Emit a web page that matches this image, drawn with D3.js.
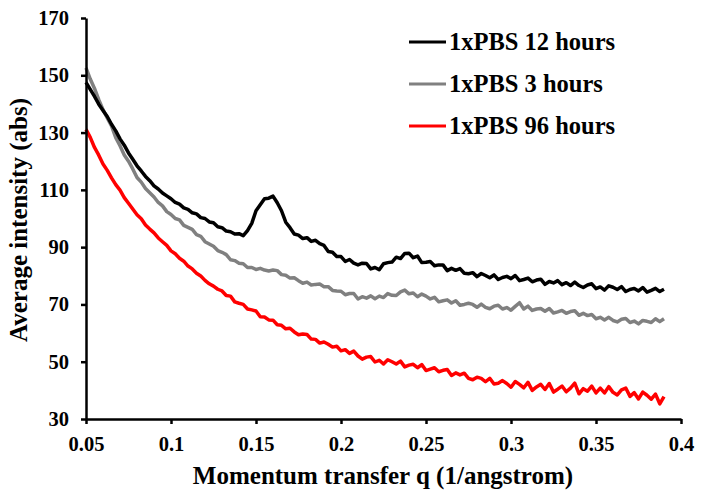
<!DOCTYPE html>
<html>
<head>
<meta charset="utf-8">
<script src="https://cdn.jsdelivr.net/npm/d3@7"></script>
<style>
  html, body { margin: 0; padding: 0; background: #fff; }
  svg { display: block; }
  text { font-family: "Times New Roman", "Liberation Serif", serif; font-weight: bold; fill: #000; }
</style>
</head>
<body>
<svg id="chart" width="703" height="497"></svg>
<script>
// ---------- data ----------
const qValues = [
0.05,0.0525,0.055,0.0575,0.06,0.0625,0.065,0.0675,0.07,0.0725,0.075,0.0775,0.08,0.0825,0.085,0.0875,0.09,0.0925,0.095,0.0975,
0.1,0.1025,0.105,0.1075,0.11,0.1125,0.115,0.1175,0.12,0.1225,0.125,0.1275,0.13,0.1325,0.135,0.1375,0.14,0.1425,0.145,0.1475,
0.15,0.1525,0.155,0.1575,0.16,0.1625,0.165,0.1675,0.17,0.1725,0.175,0.1775,0.18,0.1825,0.185,0.1875,0.19,0.1925,0.195,0.1975,
0.2,0.2025,0.205,0.2075,0.21,0.2125,0.215,0.2175,0.22,0.2225,0.225,0.2275,0.23,0.2325,0.235,0.2375,0.24,0.2425,0.245,0.2475,
0.25,0.2525,0.255,0.2575,0.26,0.2625,0.265,0.2675,0.27,0.2725,0.275,0.2775,0.28,0.2825,0.285,0.2875,0.29,0.2925,0.295,0.2975,
0.3,0.3025,0.305,0.3075,0.31,0.3125,0.315,0.3175,0.32,0.3225,0.325,0.3275,0.33,0.3325,0.335,0.3375,0.34,0.3425,0.345,0.3475,
0.35,0.3525,0.355,0.3575,0.36,0.3625,0.365,0.3675,0.37,0.3725,0.375,0.3775,0.38,0.3825,0.385,0.3875,0.39
];

const pbs12h = [
147.5,145.1,142.6,139.9,137.7,135.6,132.9,130.6,127.8,125.6,122.9,120.7,118.4,116.6,114.7,113.2,111.4,110.3,108.9,107.9,
106.9,105.6,105.0,103.7,103.2,102.0,101.6,100.3,100.0,98.8,98.5,97.1,96.8,95.6,95.4,94.6,94.7,94.0,95.8,98.3,
102.7,104.8,106.9,107.1,107.8,105.5,102.7,98.7,96.8,94.6,94.2,93.0,93.3,92.0,92.4,91.2,90.6,88.5,88.2,86.7,
86.7,85.0,85.7,84.4,83.8,84.4,84.3,82.4,82.9,82.1,84.2,84.6,84.8,86.5,86.0,87.8,87.9,86.3,86.9,84.6,
84.7,85.0,83.5,83.8,83.8,81.8,82.6,81.9,82.5,80.9,80.7,81.1,79.7,80.8,80.1,79.3,80.3,78.7,79.4,79.8,
79.0,80.1,78.3,78.7,79.2,77.9,78.5,78.8,77.0,78.0,77.5,78.3,76.9,77.6,76.6,77.8,76.6,75.9,76.8,77.2,
75.5,76.1,75.0,76.5,76.0,75.2,76.2,74.5,75.2,75.6,74.7,75.9,74.3,74.9,75.6,74.5,75.3
];

const pbs3h = [
152.6,148.7,145.4,141.5,138.0,135.1,132.3,128.2,125.4,122.2,120.0,117.3,114.3,112.7,110.5,109.0,107.5,105.6,104.4,102.4,
101.4,100.0,99.5,97.6,96.9,96.2,94.4,93.8,91.9,91.1,90.3,88.8,88.2,87.4,85.6,85.3,84.4,84.2,82.9,82.9,
82.2,82.6,82.0,81.7,82.0,81.8,80.4,80.2,79.2,79.3,78.3,77.4,77.8,76.8,77.0,77.1,76.2,76.2,74.9,74.7,
74.6,73.4,73.8,73.8,71.9,72.7,72.2,73.0,72.0,72.9,72.4,73.8,73.2,73.1,74.4,75.0,73.7,74.0,72.7,73.6,
72.9,71.9,72.5,70.9,71.3,71.6,70.5,71.3,69.7,70.0,70.4,70.0,69.0,70.1,69.0,68.5,69.4,69.7,68.4,68.9,
68.0,69.3,70.6,68.4,69.4,67.9,68.4,68.6,67.6,68.6,67.0,67.4,67.9,66.9,67.5,67.8,66.2,66.9,66.1,66.5,
65.0,65.5,64.6,65.5,64.4,63.9,64.8,65.1,63.7,64.2,63.2,64.4,64.1,63.7,65.0,64.0,65.0
];

const pbs96h = [
131.1,128.3,124.8,122.1,119.0,116.8,114.2,111.8,109.9,107.3,105.3,103.3,101.3,99.9,97.7,96.3,95.0,93.2,91.9,90.6,
88.7,87.7,86.1,85.1,83.4,82.4,80.9,79.9,78.4,77.2,76.4,75.3,74.7,73.1,72.9,70.9,70.4,70.0,68.4,68.1,
67.7,65.7,65.6,64.6,64.5,62.9,62.7,61.5,61.7,60.4,59.4,59.7,59.5,57.9,57.8,56.5,56.9,56.1,55.1,55.4,
53.8,54.2,52.9,53.7,52.0,50.9,51.6,51.8,49.9,50.5,49.2,50.7,50.0,49.2,50.2,48.2,48.8,49.1,47.9,49.0,
46.9,47.4,47.9,46.5,47.0,47.3,45.2,46.1,45.4,46.0,44.2,43.7,44.6,44.2,43.0,44.2,42.2,42.5,43.4,42.4,
41.1,43.1,42.1,40.9,42.8,40.0,41.2,42.1,40.3,42.4,39.4,40.4,41.5,39.5,40.8,42.5,38.8,40.6,39.7,41.5,
39.1,40.8,39.1,41.3,39.3,38.4,40.2,40.8,37.9,39.2,37.0,39.4,38.3,36.9,38.7,35.3,37.8
];

const seriesNames = ["1xPBS 12 hours", "1xPBS 3 hours", "1xPBS 96 hours"];
const seriesColors = ["#000000", "#808080", "#ff0000"];
const xTicks = [0.05, 0.1, 0.15, 0.2, 0.25, 0.3, 0.35, 0.4];
const yTicks = [30, 50, 70, 90, 110, 130, 150, 170];
const xTitle = "Momentum transfer q (1/angstrom)";
const yTitle = "Average intensity (abs)";

// ---------- drawing ----------
const svg = d3.select("#chart");
const x = d3.scaleLinear().domain([0.05, 0.4]).range([86, 681]);
const y = d3.scaleLinear().domain([30, 170]).range([419, 18]);

const series = [pbs12h, pbs3h, pbs96h];
const line = d3.line().x(d => x(d[0])).y(d => y(d[1]));

// draw order: red, gray, black (black on top)
[2, 1, 0].forEach(i => {
  svg.append("path")
    .datum(qValues.map((q, k) => [q, series[i][k]]))
    .attr("d", line)
    .attr("fill", "none")
    .attr("stroke", seriesColors[i])
    .attr("stroke-width", 3.5)
    .attr("stroke-linejoin", "round");
});

// axes
const xAxis = d3.axisBottom(x).tickValues(xTicks).tickSize(5).tickSizeOuter(0).tickPadding(12)
  .tickFormat(d => d3.format("")(+d.toFixed(2)));
const yAxis = d3.axisLeft(y).tickValues(yTicks).tickSize(5).tickSizeOuter(0).tickPadding(12);

const gx = svg.append("g").attr("transform", "translate(0,419)").call(xAxis);
const gy = svg.append("g").attr("transform", "translate(86,0)").call(yAxis);

[gx, gy].forEach(g => {
  g.select(".domain").attr("stroke", "#000").attr("stroke-width", 2.5);
  g.selectAll(".tick line").attr("stroke", "#000").attr("stroke-width", 2.5);
  g.selectAll(".tick text")
    .style("font-family", '"Times New Roman", "Liberation Serif", serif')
    .style("font-weight", "bold")
    .style("font-size", "20.5px")
    .attr("fill", "#000");
});

// axis titles
svg.append("text")
  .attr("x", 383).attr("y", 484)
  .attr("text-anchor", "middle")
  .style("font-size", "25px")
  .text(xTitle);

svg.append("text")
  .attr("transform", "translate(27,220) rotate(-90)")
  .attr("text-anchor", "middle")
  .style("font-size", "25px")
  .text(yTitle);

// legend
const legendY = [42, 84, 126];
seriesNames.forEach((name, i) => {
  svg.append("line")
    .attr("x1", 409).attr("x2", 446)
    .attr("y1", legendY[i]).attr("y2", legendY[i])
    .attr("stroke", seriesColors[i]).attr("stroke-width", 3);
  svg.append("text")
    .attr("x", 449).attr("y", legendY[i] + 8)
    .style("font-size", "24.5px")
    .text(name);
});
</script>
</body>
</html>
